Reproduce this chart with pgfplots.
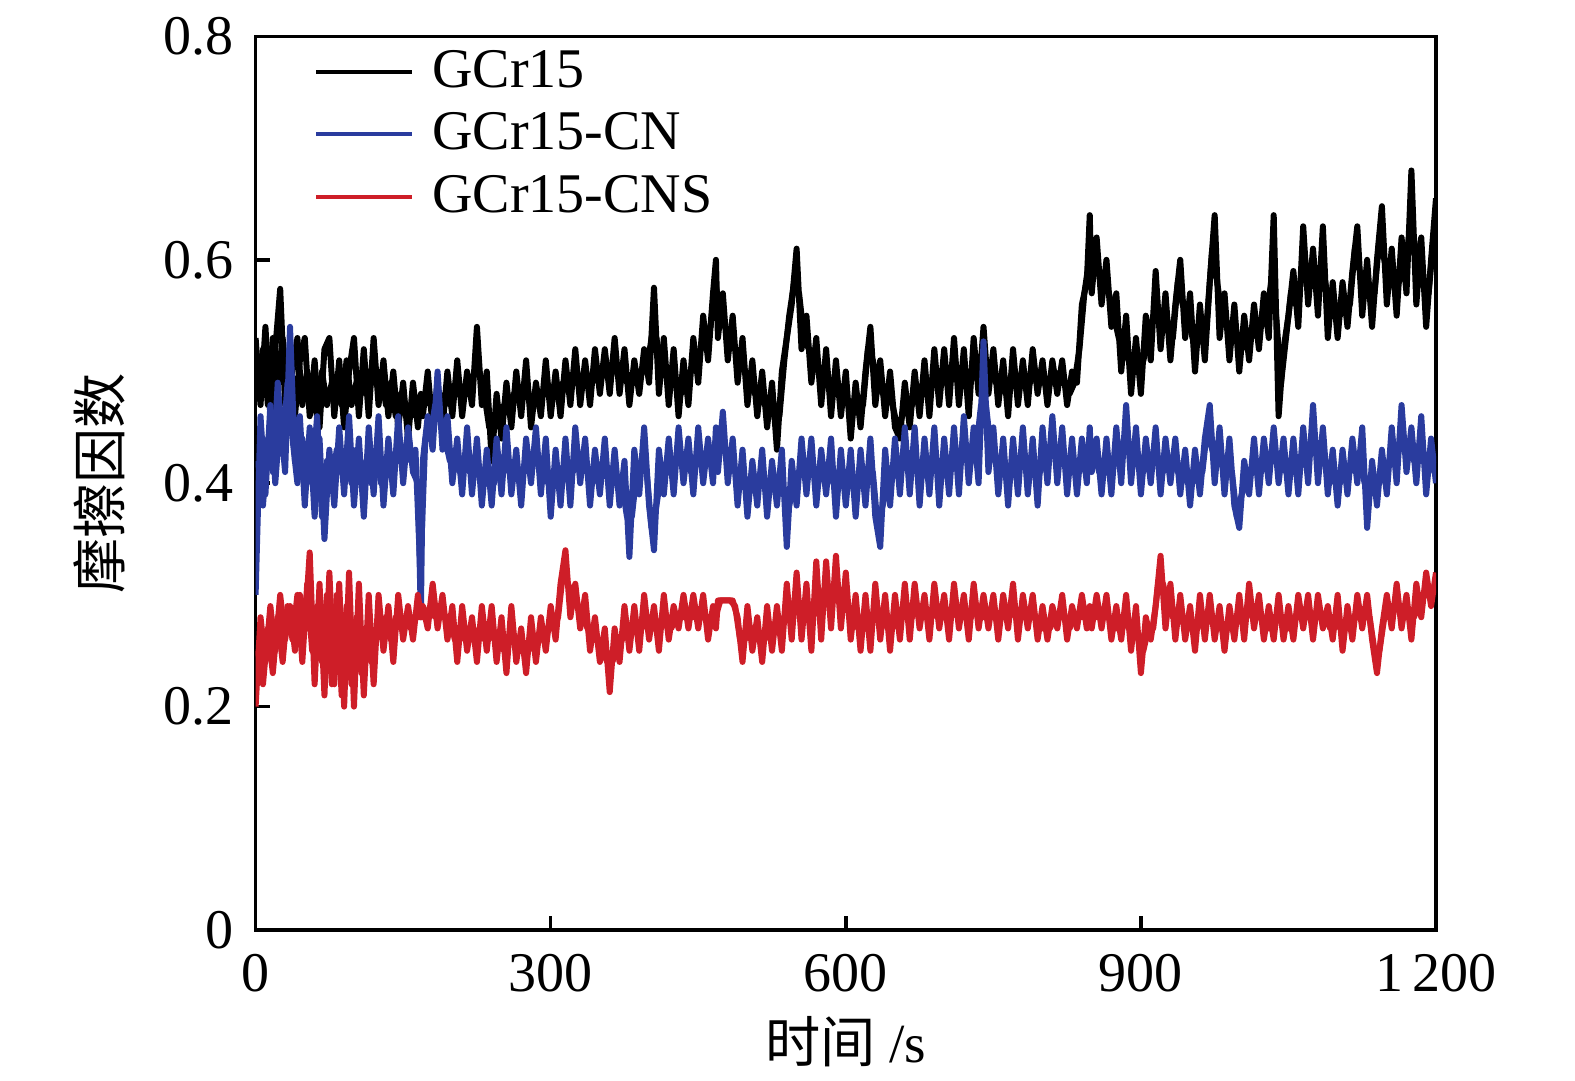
\documentclass[border=0pt]{standalone}
\usepackage{fontspec}
\setmainfont{Liberation Serif}
\newfontfamily\cjk{Noto Sans CJK SC}
\usepackage{pgfplots}
\usepackage{pgfplotstable}
\pgfplotsset{compat=1.18}
\definecolor{cblue}{RGB}{42,60,158}
\definecolor{cred}{RGB}{206,30,40}
\pgfplotstableread{
x b u r
0 0.53 0.30 0.20
5 0.47 0.46 0.28
10 0.54 0.39 0.24
15 0.46 0.47 0.29
20 0.52 0.40 0.25
25 0.574 0.46 0.30
30 0.47 0.41 0.26
35 0.52 0.54 0.29
40 0.46 0.42 0.25
45 0.51 0.46 0.30
50 0.53 0.38 0.27
55 0.46 0.45 0.338
60 0.51 0.37 0.22
65 0.45 0.44 0.31
70 0.52 0.35 0.21
75 0.53 0.43 0.32
80 0.46 0.38 0.22
85 0.51 0.45 0.31
90 0.45 0.39 0.20
95 0.50 0.46 0.32
100 0.53 0.38 0.20
105 0.46 0.44 0.31
110 0.52 0.37 0.21
115 0.46 0.45 0.30
120 0.53 0.39 0.22
125 0.47 0.46 0.30
130 0.51 0.38 0.25
135 0.46 0.44 0.29
140 0.50 0.39 0.24
145 0.45 0.46 0.30
150 0.49 0.40 0.26
155 0.44 0.45 0.29
160 0.49 0.41 0.26
165 0.45 0.40 0.30
168 0.48 0.28 0.28
170 0.46 0.42 0.29
175 0.50 0.46 0.27
180 0.45 0.43 0.31
185 0.49 0.50 0.27
190 0.45 0.43 0.30
195 0.50 0.46 0.26
200 0.46 0.40 0.29
205 0.51 0.44 0.24
210 0.46 0.39 0.29
215 0.50 0.45 0.25
220 0.47 0.39 0.28
225 0.54 0.44 0.24
230 0.47 0.38 0.29
235 0.50 0.43 0.25
240 0.42 0.38 0.29
245 0.48 0.44 0.24
250 0.44 0.39 0.28
255 0.49 0.45 0.23
260 0.45 0.39 0.29
265 0.50 0.43 0.24
270 0.46 0.38 0.27
275 0.51 0.44 0.23
280 0.45 0.40 0.28
285 0.49 0.45 0.24
290 0.46 0.39 0.28
295 0.51 0.44 0.25
300 0.46 0.37 0.29
305 0.50 0.43 0.26
310 0.46 0.38 0.31
315 0.51 0.44 0.34
320 0.47 0.38 0.28
325 0.52 0.45 0.31
330 0.47 0.40 0.27
335 0.51 0.44 0.30
340 0.47 0.38 0.25
345 0.52 0.43 0.28
350 0.48 0.39 0.24
355 0.52 0.44 0.27
360 0.48 0.38 0.213
365 0.53 0.43 0.27
370 0.48 0.38 0.24
375 0.52 0.42 0.29
380 0.47 0.334 0.25
385 0.51 0.43 0.29
390 0.48 0.39 0.25
395 0.52 0.45 0.30
400 0.49 0.38 0.26
405 0.575 0.34 0.29
410 0.48 0.43 0.25
415 0.53 0.39 0.30
420 0.47 0.44 0.26
425 0.52 0.39 0.29
430 0.46 0.45 0.27
435 0.51 0.40 0.30
440 0.47 0.44 0.27
445 0.53 0.39 0.30
450 0.49 0.45 0.27
455 0.55 0.40 0.30
460 0.51 0.44 0.26
465 0.57 0.40 0.29
468 0.60 0.45 0.27
470 0.53 0.41 0.295
475 0.57 0.464 0.295
480 0.51 0.40 0.295
485 0.55 0.44 0.295
490 0.49 0.38 0.28
495 0.53 0.43 0.24
500 0.47 0.37 0.29
505 0.51 0.42 0.25
510 0.46 0.38 0.28
515 0.50 0.43 0.24
520 0.45 0.37 0.29
525 0.49 0.42 0.25
530 0.43 0.38 0.29
535 0.50 0.43 0.25
540 0.53 0.343 0.31
545 0.56 0.42 0.26
550 0.61 0.38 0.32
555 0.52 0.44 0.26
560 0.55 0.39 0.31
565 0.49 0.44 0.25
570 0.53 0.38 0.33
575 0.47 0.43 0.26
580 0.52 0.39 0.33
585 0.46 0.44 0.27
590 0.51 0.37 0.335
595 0.46 0.43 0.27
600 0.50 0.38 0.32
605 0.44 0.43 0.26
610 0.49 0.37 0.30
615 0.45 0.43 0.25
620 0.50 0.38 0.30
625 0.54 0.44 0.25
630 0.47 0.37 0.31
635 0.51 0.343 0.26
640 0.46 0.43 0.30
645 0.50 0.38 0.25
650 0.45 0.44 0.30
655 0.44 0.39 0.26
660 0.49 0.45 0.31
665 0.45 0.39 0.26
670 0.50 0.45 0.31
675 0.46 0.38 0.27
680 0.51 0.44 0.30
685 0.46 0.39 0.26
690 0.52 0.45 0.31
695 0.47 0.38 0.27
700 0.52 0.44 0.30
705 0.47 0.39 0.26
710 0.53 0.45 0.31
715 0.47 0.39 0.27
720 0.52 0.46 0.30
725 0.46 0.40 0.26
730 0.53 0.45 0.31
735 0.48 0.40 0.27
740 0.54 0.527 0.30
745 0.48 0.41 0.27
750 0.52 0.45 0.30
755 0.47 0.39 0.26
760 0.51 0.44 0.30
765 0.46 0.38 0.27
770 0.52 0.44 0.31
775 0.47 0.39 0.26
780 0.51 0.45 0.30
785 0.47 0.39 0.27
790 0.52 0.44 0.30
795 0.48 0.38 0.26
800 0.51 0.45 0.29
805 0.47 0.40 0.26
810 0.51 0.46 0.29
815 0.48 0.40 0.27
820 0.51 0.45 0.30
825 0.47 0.39 0.26
830 0.50 0.44 0.29
835 0.49 0.39 0.27
840 0.56 0.44 0.30
845 0.58 0.40 0.27
848 0.64 0.45 0.29
850 0.57 0.41 0.27
855 0.62 0.44 0.30
860 0.56 0.39 0.27
865 0.60 0.44 0.30
870 0.54 0.39 0.26
875 0.57 0.45 0.29
880 0.50 0.40 0.26
885 0.55 0.47 0.30
890 0.48 0.40 0.25
895 0.53 0.45 0.29
900 0.48 0.39 0.23
905 0.55 0.44 0.28
910 0.51 0.40 0.26
915 0.59 0.45 0.29
920 0.52 0.39 0.335
925 0.57 0.44 0.27
930 0.51 0.40 0.31
935 0.56 0.44 0.26
940 0.60 0.39 0.30
945 0.53 0.43 0.26
950 0.57 0.38 0.29
955 0.50 0.43 0.25
960 0.56 0.39 0.30
965 0.51 0.44 0.26
970 0.58 0.47 0.30
975 0.64 0.40 0.26
980 0.53 0.45 0.29
985 0.57 0.39 0.25
990 0.51 0.44 0.29
995 0.56 0.38 0.26
1000 0.50 0.36 0.30
1005 0.55 0.42 0.26
1010 0.51 0.39 0.31
1015 0.56 0.44 0.27
1020 0.52 0.39 0.30
1025 0.57 0.44 0.26
1030 0.53 0.40 0.29
1035 0.64 0.45 0.26
1040 0.46 0.40 0.30
1045 0.52 0.44 0.26
1050 0.55 0.39 0.29
1055 0.59 0.44 0.26
1060 0.54 0.39 0.30
1065 0.63 0.45 0.27
1070 0.56 0.40 0.30
1075 0.61 0.47 0.26
1080 0.55 0.40 0.30
1085 0.63 0.45 0.27
1090 0.53 0.39 0.29
1095 0.58 0.43 0.26
1100 0.53 0.38 0.30
1105 0.58 0.43 0.25
1110 0.54 0.39 0.29
1115 0.59 0.44 0.26
1120 0.63 0.40 0.30
1125 0.55 0.45 0.27
1130 0.60 0.36 0.30
1135 0.54 0.42 0.26
1140 0.60 0.38 0.23
1145 0.648 0.43 0.27
1150 0.56 0.39 0.30
1155 0.61 0.45 0.27
1160 0.55 0.40 0.31
1165 0.62 0.47 0.27
1170 0.57 0.41 0.30
1175 0.68 0.45 0.26
1180 0.56 0.40 0.31
1185 0.62 0.46 0.28
1190 0.54 0.39 0.32
1195 0.60 0.44 0.29
1200 0.655 0.40 0.32
}\dataA
\pgfplotstableread{
x b u r
2.5 0.48 0.42 0.25
7.5 0.52 0.38 0.22
12.5 0.47 0.44 0.27
17.5 0.53 0.41 0.23
22.5 0.49 0.49 0.28
27.5 0.53 0.43 0.24
32.5 0.48 0.49 0.29
37.5 0.50 0.44 0.26
42.5 0.53 0.40 0.30
47.5 0.47 0.44 0.24
52.5 0.50 0.41 0.31
57.5 0.48 0.40 0.25
62.5 0.46 0.46 0.29
67.5 0.50 0.37 0.24
72.5 0.47 0.42 0.30
77.5 0.49 0.40 0.22
82.5 0.48 0.43 0.30
87.5 0.47 0.41 0.21
92.5 0.51 0.43 0.29
97.5 0.47 0.40 0.22
102.5 0.49 0.43 0.28
107.5 0.48 0.40 0.23
112.5 0.50 0.42 0.27
117.5 0.49 0.40 0.24
122.5 0.49 0.43 0.27
127.5 0.50 0.40 0.27
132.5 0.47 0.42 0.28
137.5 0.49 0.41 0.26
142.5 0.46 0.42 0.28
147.5 0.48 0.42 0.27
152.5 0.46 0.43 0.28
157.5 0.47 0.42 0.27
162.5 0.46 0.43 0.28
167.5 0.47 0.32 0.28
172.5 0.48 0.44 0.28
177.5 0.47 0.44 0.29
182.5 0.47 0.47 0.28
187.5 0.47 0.46 0.29
192.5 0.48 0.44 0.28
197.5 0.47 0.42 0.28
202.5 0.48 0.42 0.26
207.5 0.48 0.41 0.27
212.5 0.48 0.42 0.26
217.5 0.48 0.41 0.27
222.5 0.50 0.42 0.26
227.5 0.50 0.41 0.27
232.5 0.48 0.40 0.26
237.5 0.45 0.41 0.27
242.5 0.45 0.40 0.26
247.5 0.46 0.42 0.26
252.5 0.47 0.41 0.25
257.5 0.47 0.42 0.26
262.5 0.48 0.41 0.26
267.5 0.48 0.41 0.25
272.5 0.48 0.41 0.25
277.5 0.48 0.42 0.25
282.5 0.47 0.42 0.26
287.5 0.48 0.42 0.26
292.5 0.48 0.41 0.26
297.5 0.48 0.40 0.27
302.5 0.48 0.40 0.27
307.5 0.48 0.40 0.28
312.5 0.49 0.41 0.32
317.5 0.49 0.41 0.31
322.5 0.49 0.41 0.30
327.5 0.49 0.42 0.29
332.5 0.49 0.42 0.28
337.5 0.49 0.41 0.27
342.5 0.49 0.40 0.26
347.5 0.50 0.41 0.26
352.5 0.50 0.41 0.25
357.5 0.50 0.41 0.24
362.5 0.50 0.40 0.24
367.5 0.50 0.40 0.25
372.5 0.50 0.40 0.26
377.5 0.49 0.37 0.27
382.5 0.49 0.37 0.27
387.5 0.49 0.41 0.27
392.5 0.50 0.42 0.27
397.5 0.50 0.41 0.28
402.5 0.53 0.36 0.27
407.5 0.53 0.38 0.27
412.5 0.50 0.41 0.27
417.5 0.50 0.41 0.28
422.5 0.49 0.41 0.27
427.5 0.49 0.42 0.28
432.5 0.48 0.42 0.28
437.5 0.49 0.42 0.28
442.5 0.50 0.41 0.28
447.5 0.51 0.42 0.28
452.5 0.52 0.42 0.28
457.5 0.53 0.42 0.28
462.5 0.54 0.42 0.28
467.5 0.58 0.43 0.28
472.5 0.55 0.43 0.295
477.5 0.54 0.43 0.295
482.5 0.53 0.42 0.295
487.5 0.52 0.41 0.29
492.5 0.51 0.40 0.26
497.5 0.50 0.40 0.26
502.5 0.49 0.40 0.27
507.5 0.48 0.40 0.27
512.5 0.48 0.40 0.26
517.5 0.47 0.40 0.26
522.5 0.47 0.40 0.27
527.5 0.46 0.40 0.27
532.5 0.46 0.40 0.27
537.5 0.51 0.39 0.28
542.5 0.55 0.38 0.28
547.5 0.58 0.40 0.29
552.5 0.57 0.41 0.29
557.5 0.53 0.41 0.28
562.5 0.52 0.41 0.28
567.5 0.51 0.41 0.29
572.5 0.50 0.41 0.29
577.5 0.49 0.41 0.29
582.5 0.49 0.41 0.30
587.5 0.48 0.40 0.30
592.5 0.48 0.40 0.30
597.5 0.48 0.40 0.29
602.5 0.47 0.40 0.29
607.5 0.47 0.40 0.28
612.5 0.47 0.40 0.27
617.5 0.47 0.40 0.27
622.5 0.52 0.41 0.27
627.5 0.51 0.41 0.28
632.5 0.49 0.36 0.28
637.5 0.48 0.38 0.28
642.5 0.48 0.40 0.27
647.5 0.47 0.41 0.27
652.5 0.45 0.41 0.28
657.5 0.46 0.42 0.28
662.5 0.47 0.42 0.28
667.5 0.47 0.42 0.28
672.5 0.48 0.41 0.29
677.5 0.48 0.41 0.28
682.5 0.49 0.41 0.28
687.5 0.49 0.42 0.28
692.5 0.49 0.41 0.29
697.5 0.49 0.41 0.28
702.5 0.49 0.41 0.28
707.5 0.50 0.42 0.28
712.5 0.50 0.42 0.29
717.5 0.49 0.42 0.28
722.5 0.49 0.43 0.28
727.5 0.50 0.42 0.28
732.5 0.50 0.43 0.29
737.5 0.51 0.47 0.28
742.5 0.51 0.47 0.28
747.5 0.50 0.43 0.28
752.5 0.49 0.42 0.28
757.5 0.49 0.41 0.28
762.5 0.48 0.41 0.28
767.5 0.49 0.41 0.29
772.5 0.49 0.41 0.28
777.5 0.49 0.42 0.28
782.5 0.49 0.42 0.28
787.5 0.49 0.41 0.28
792.5 0.50 0.41 0.28
797.5 0.49 0.41 0.27
802.5 0.49 0.42 0.27
807.5 0.49 0.43 0.27
812.5 0.50 0.43 0.28
817.5 0.49 0.42 0.28
822.5 0.49 0.42 0.28
827.5 0.48 0.41 0.27
832.5 0.49 0.41 0.28
837.5 0.52 0.41 0.28
842.5 0.57 0.42 0.28
847.5 0.60 0.43 0.28
852.5 0.60 0.43 0.28
857.5 0.59 0.41 0.28
862.5 0.58 0.41 0.28
867.5 0.57 0.41 0.28
872.5 0.55 0.42 0.27
877.5 0.53 0.42 0.27
882.5 0.52 0.43 0.28
887.5 0.51 0.43 0.27
892.5 0.50 0.42 0.27
897.5 0.50 0.42 0.26
902.5 0.51 0.41 0.25
907.5 0.53 0.42 0.27
912.5 0.55 0.42 0.27
917.5 0.55 0.42 0.31
922.5 0.54 0.41 0.31
927.5 0.54 0.42 0.29
932.5 0.53 0.42 0.28
937.5 0.58 0.41 0.28
942.5 0.56 0.41 0.28
947.5 0.55 0.40 0.27
952.5 0.53 0.40 0.27
957.5 0.53 0.41 0.27
962.5 0.53 0.41 0.28
967.5 0.55 0.45 0.28
972.5 0.61 0.43 0.28
977.5 0.58 0.42 0.27
982.5 0.55 0.42 0.27
987.5 0.54 0.41 0.27
992.5 0.53 0.41 0.27
997.5 0.53 0.37 0.28
1002.5 0.52 0.39 0.28
1007.5 0.53 0.40 0.28
1012.5 0.53 0.41 0.29
1017.5 0.54 0.41 0.28
1022.5 0.54 0.41 0.28
1027.5 0.55 0.42 0.27
1032.5 0.58 0.42 0.27
1037.5 0.55 0.42 0.28
1042.5 0.49 0.42 0.28
1047.5 0.53 0.41 0.27
1052.5 0.57 0.41 0.27
1057.5 0.56 0.41 0.28
1062.5 0.58 0.42 0.28
1067.5 0.59 0.42 0.28
1072.5 0.58 0.43 0.28
1077.5 0.58 0.43 0.28
1082.5 0.59 0.42 0.28
1087.5 0.58 0.42 0.28
1092.5 0.55 0.41 0.27
1097.5 0.55 0.40 0.28
1102.5 0.55 0.40 0.27
1107.5 0.56 0.41 0.27
1112.5 0.56 0.41 0.27
1117.5 0.61 0.42 0.28
1122.5 0.59 0.42 0.28
1127.5 0.57 0.40 0.28
1132.5 0.57 0.39 0.28
1137.5 0.57 0.40 0.25
1142.5 0.62 0.40 0.25
1147.5 0.60 0.41 0.28
1152.5 0.58 0.42 0.28
1157.5 0.58 0.42 0.29
1162.5 0.58 0.43 0.29
1167.5 0.59 0.44 0.28
1172.5 0.62 0.43 0.28
1177.5 0.62 0.42 0.28
1182.5 0.59 0.43 0.29
1187.5 0.58 0.42 0.30
1192.5 0.57 0.41 0.30
1197.5 0.62 0.42 0.30
}\dataB
\begin{document}
\begin{tikzpicture}
\useasboundingbox (0,0) rectangle (393.75pt,270.25pt);
\begin{axis}[name=ax, at={(63.9pt,37.75pt)}, anchor=south west,
  scale only axis, width=295.1pt, height=223.4pt,
  xmin=0, xmax=1200, ymin=0, ymax=0.8,
  xtick={0,300,600,900,1200}, xticklabels={0,300,600,900,1\,200},
  ytick={0,0.2,0.4,0.6,0.8}, yticklabels={0,0.2,0.4,0.6,0.8},
  tick align=inside, xtick pos=bottom, ytick pos=left,
  major tick length=3.5pt,
  axis line style={line width=0.9pt},
  tick style={line width=0.9pt, black},
  ticklabel style={font=\fontsize{14}{16}\selectfont},
  xticklabel style={yshift=-2.5pt},
  yticklabel style={xshift=-2pt},
  xlabel={{\cjk 时间} /s}, ylabel={\cjk 摩擦因数},
  label style={font=\fontsize{13.8}{15}\selectfont},
  xlabel style={yshift=0.8pt},
  ylabel style={yshift=2.8pt},
  legend cell align=left,
  legend style={at={(0,1)}, anchor=north west, xshift=14.5pt, yshift=-2pt,
    draw=none, fill=none, font=\fontsize{14}{16}\selectfont,
    row sep=2.5pt, column sep=3.3pt, inner sep=0pt, nodes={inner sep=1.2pt}},
  legend image code/.code={\draw[#1, line width=1pt] (0pt,0pt) -- (24pt,0pt);},
  every axis plot/.append style={line width=1.5pt, line join=round},
]
\addplot[black] table[x=x, y=b] {\dataA};
\addplot[black, forget plot] table[x=x, y=b] {\dataB};
\addplot[cblue] table[x=x, y=u] {\dataA};
\addplot[cblue, forget plot] table[x=x, y=u] {\dataB};
\addplot[cred] table[x=x, y=r] {\dataA};
\addplot[cred, forget plot] table[x=x, y=r] {\dataB};
\legend{GCr15, GCr15-CN, GCr15-CNS}
\end{axis}
\end{tikzpicture}
\end{document}
